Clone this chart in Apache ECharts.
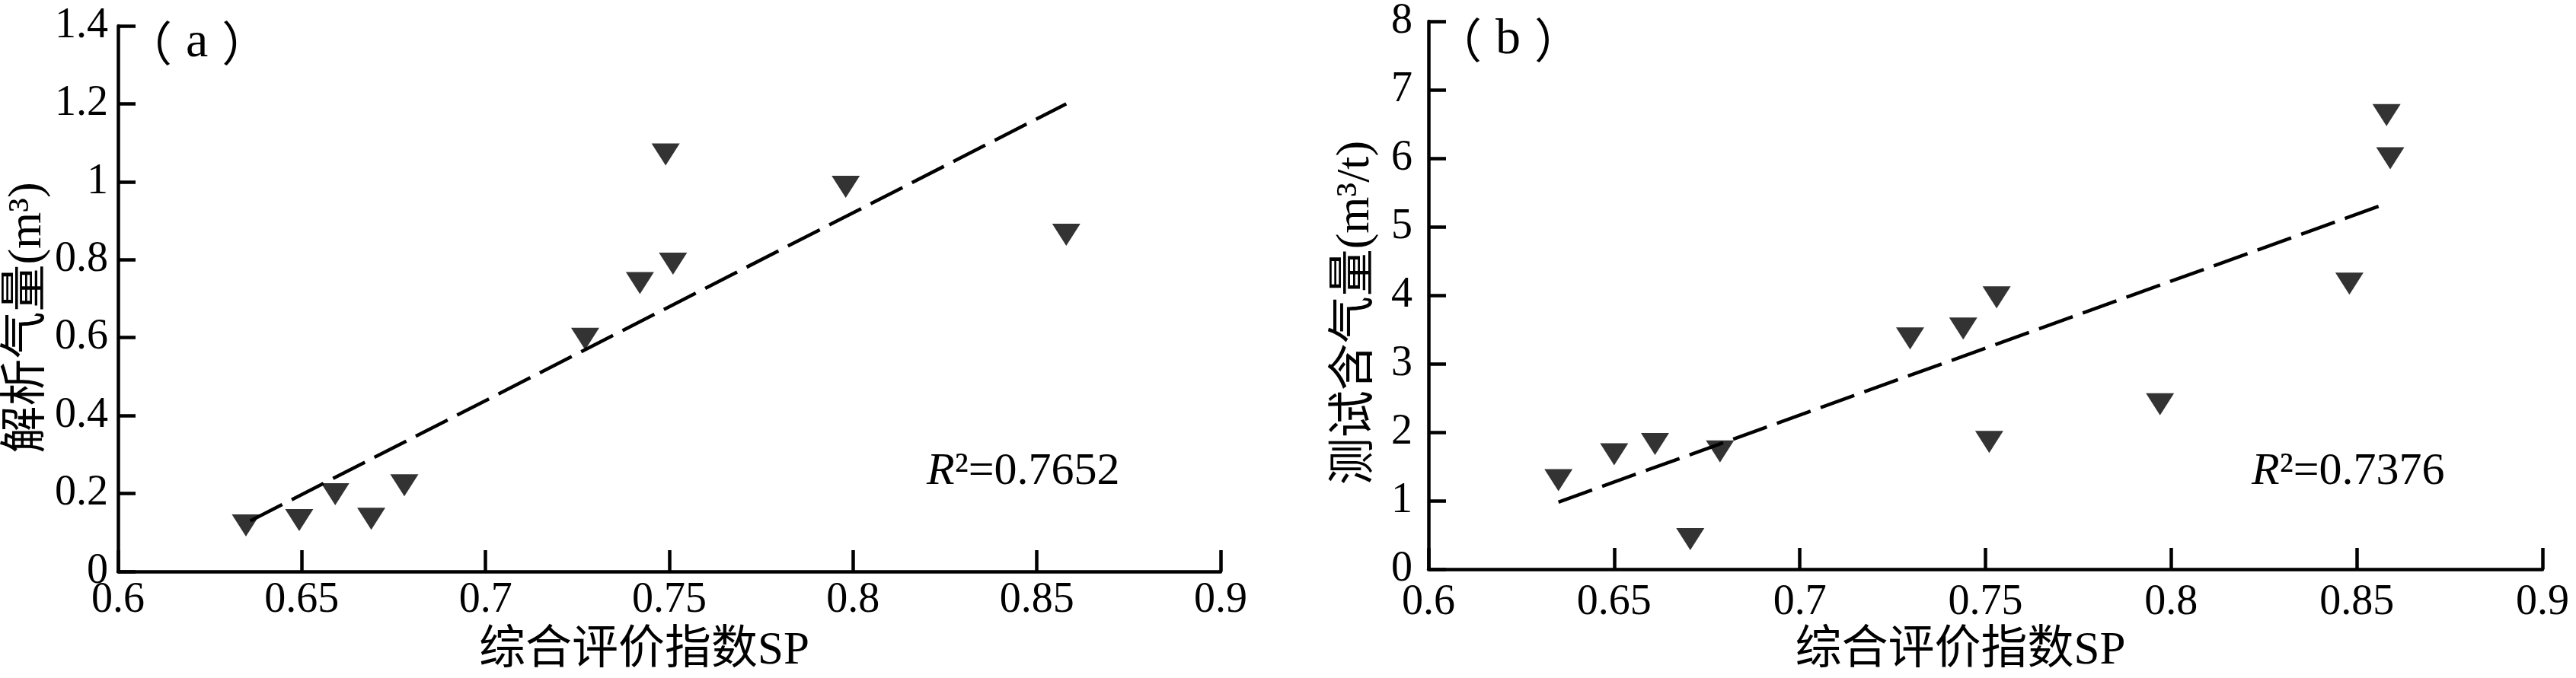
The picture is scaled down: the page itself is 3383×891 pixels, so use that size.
<!DOCTYPE html>
<html>
<head>
<meta charset="utf-8">
<script src="https://cdn.jsdelivr.net/npm/echarts@6/dist/echarts.min.js"></script>
<style>
html,body{margin:0;padding:0;background:#fff;}
#c{width:3383px;height:891px;}
</style>
</head>
<body>
<div id="c"></div>
<script>
// Panel (a): desorbed gas volume vs SP
var spA = [0.6348, 0.6493, 0.6591, 0.6689, 0.6779, 0.7271, 0.742, 0.749, 0.751, 0.798, 0.858];
var gasA = [0.118, 0.132, 0.198, 0.135, 0.221, 0.597, 0.74, 1.07, 0.79, 0.987, 0.864];
var fitA = [[0.636, 0.13], [0.858, 1.2]];
// Panel (b): tested gas content vs SP
var spB = [0.635, 0.650, 0.661, 0.6705, 0.6785, 0.7297, 0.744, 0.751, 0.753, 0.797, 0.848, 0.859, 0.858];
var gasB = [1.30, 1.68, 1.83, 0.44, 1.72, 3.37, 3.515, 1.86, 3.97, 2.41, 4.17, 6.0, 6.63];
var fitB = [[0.635, 0.98], [0.8585, 5.35]];

var xName = '综合评价指数SP';
var yNameA = '解析气量(m³)';
var yNameB = '测试含气量(m³/t)';
var r2A = '0.7652';
var r2B = '0.7376';

var FONT = "'Liberation Serif', 'Noto Sans CJK SC', serif";
var CJK = "'Noto Sans CJK SC', sans-serif";
var lineW = 4.5;

function pairs(xs, ys){ return xs.map(function(x,i){ return [x, ys[i]]; }); }

function xAxis(gi, margin){
  return {
    type:'value', gridIndex:gi, min:0.6, max:0.9, interval:0.05,
    name:xName, nameLocation:'middle', nameGap:74,
    nameTextStyle:{fontFamily:FONT, fontSize:61, color:'#000', padding:[0,66,0,0]},
    axisLine:{show:true, onZero:false, lineStyle:{color:'#000', width:lineW}},
    axisTick:{show:true, inside:true, length:28, lineStyle:{color:'#000', width:lineW}},
    axisLabel:{fontFamily:FONT, fontSize:56, color:'#000', margin:margin},
    splitLine:{show:false}
  };
}
function yAxis(gi, max, interval, name, gap, margin, shift){
  return {
    type:'value', gridIndex:gi, min:0, max:max, interval:interval,
    name:name, nameLocation:'middle', nameGap:gap, nameRotate:90,
    nameTextStyle:{fontFamily:FONT, fontSize:62, color:'#000', padding:[0, shift, 0, 0]},
    axisLine:{show:true, onZero:false, lineStyle:{color:'#000', width:lineW}},
    axisTick:{show:true, inside:true, length:23, lineStyle:{color:'#000', width:lineW}},
    axisLabel:{fontFamily:FONT, fontSize:56, color:'#000', margin:margin},
    splitLine:{show:false}
  };
}
function scatter(gi, data){
  return {type:'scatter', xAxisIndex:gi, yAxisIndex:gi, data:data,
    symbol:'triangle', symbolRotate:180, symbolSize:[37,29],
    itemStyle:{color:'#000'}, z:3};
}
function fit(gi, data){
  return {type:'line', xAxisIndex:gi, yAxisIndex:gi, data:data, symbol:'none',
    lineStyle:{color:'#000', width:lineW, type:[47,14]}, z:2, silent:true};
}
function panelLabel(letter, left, top){
  return {type:'text', left:left, top:top, style:{
    text:'{p|（}{l|' + letter + '}{p|）}', fill:'#000',
    rich:{p:{fontFamily:CJK, fontSize:62, fill:'#000'},
          l:{fontFamily:FONT, fontSize:66, fill:'#000', padding:[0,18,0,18]}}
  }};
}
function r2Label(val, left, top){
  return {type:'text', left:left, top:top, style:{
    text:'{i|R}{n|²=' + val + '}', fill:'#000',
    rich:{i:{fontStyle:'italic', fontFamily:FONT, fontSize:60, fill:'#000'}, n:{fontFamily:FONT, fontSize:60, fill:'#000'}}
  }};
}

var chart = echarts.init(document.getElementById('c'), null, {renderer:'canvas'});
chart.setOption({
  backgroundColor:'#fff',
  animation:false,
  grid:[
    {left:155, right:1780, top:34, bottom:133},
    {left:1876, right:44, top:28, bottom:136}
  ],
  xAxis:[xAxis(0, 10), xAxis(1, 16)],
  yAxis:[yAxis(0, 1.4, 0.2, yNameA, 84, 13, 50), yAxis(1, 8, 1, yNameB, 64, 21, 46)],
  series:[
    scatter(0, pairs(spA, gasA)), fit(0, fitA),
    scatter(1, pairs(spB, gasB)), fit(1, fitB)
  ],
  graphic:[
    panelLabel('a', 164, 24),
    panelLabel('b', 1884, 20),
    r2Label(r2A, 1217, 590),
    r2Label(r2B, 2957, 590)
  ]
});
</script>
</body>
</html>
